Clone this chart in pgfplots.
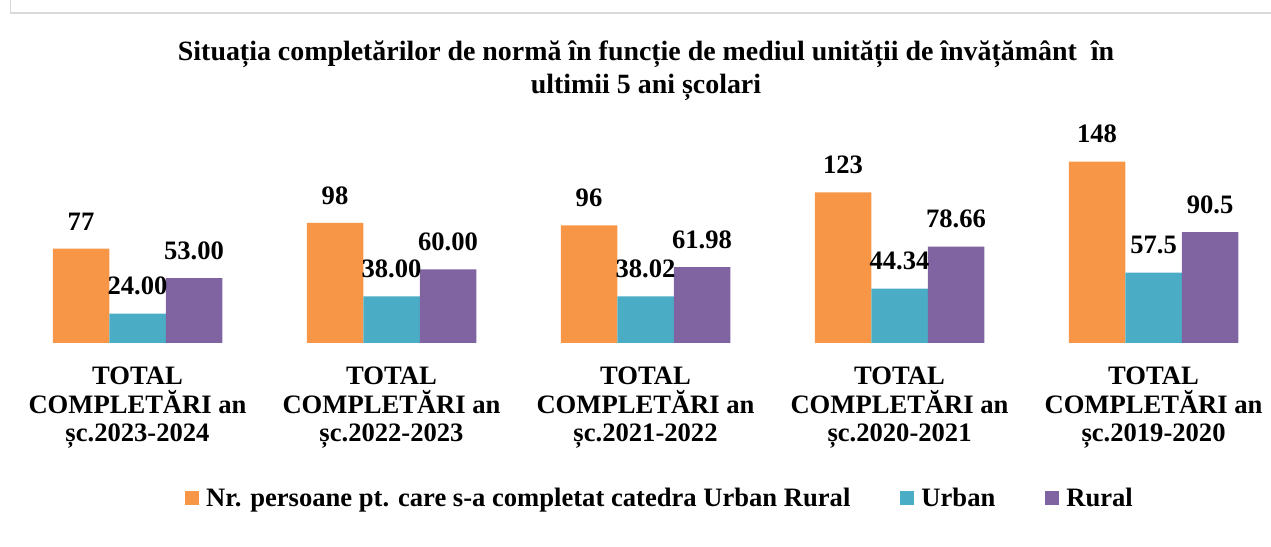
\documentclass[border=0pt]{standalone}
\usepackage{pgfplots}
\pgfplotsset{compat=1.18}
\usepackage{pgfplotstable}
\usepackage{fontspec}
\setmainfont{Liberation Serif}
\definecolor{corange}{HTML}{F79646}
\definecolor{cteal}{HTML}{4BACC6}
\definecolor{cpurple}{HTML}{8064A2}
\definecolor{cborder}{HTML}{D9D9D9}

\pgfplotstableread{
x nr lnr urb lurb rur lrur
0 77 77 24 24.00 53 53.00
1 98 98 38 38.00 60 60.00
2 96 96 38.02 38.02 61.98 61.98
3 123 123 44.34 44.34 78.66 78.66
4 148 148 57.5 57.5 90.5 90.5
}\data

\newcommand{\bigf}{\fontsize{26.7}{29}\selectfont\bfseries}

\begin{document}
\begin{tikzpicture}[x=1bp,y=1bp]
\useasboundingbox (0,0) rectangle (1271,547);
\draw[cborder, line width=1.5bp] (10.5,548) -- (10.5,534) -- (1272,534);
\node[font=\fontsize{28}{33}\selectfont\bfseries, anchor=base] at (646,486) {Situația completărilor de normă în funcție de mediul unității de învățământ \ în};
\node[font=\fontsize{28}{33}\selectfont\bfseries, anchor=base] at (646,453) {ultimii 5 ani școlari};
\begin{axis}[
  at={(137.5bp,204bp)}, anchor=origin,
  scale only axis, width=1260.5bp, height=196bp,
  xmin=-0.5, xmax=4.4626, ymin=0, ymax=160,
  ybar=0pt, bar width=56.5bp,
  axis line style={draw=none}, major tick length=0pt, ytick=\empty,
  xtick={0,1,2,3,4},
  xticklabels={
    {TOTAL\\COMPLETĂRI an\\șc.2023-2024},
    {TOTAL\\COMPLETĂRI an\\șc.2022-2023},
    {TOTAL\\COMPLETĂRI an\\șc.2021-2022},
    {TOTAL\\COMPLETĂRI an\\șc.2020-2021},
    {TOTAL\\COMPLETĂRI an\\șc.2019-2020}},
  xticklabel style={align=center, font=\bigf, yshift=-20bp},
  nodes near coords, point meta=explicit symbolic,
  every node near coord/.append style={font=\bigf, yshift=15bp, text=black},
  clip=false,
  legend image code/.code={\fill[#1] (0bp,-7bp) rectangle (14bp,7bp);},
  legend style={at={(0.5145,-0.791)}, anchor=center, draw=none, fill=none,
    font=\bigf, legend columns=-1,
    nodes={inner sep=0pt},
    /tikz/every odd column/.append style={column sep=7bp},
    /tikz/every even column/.append style={column sep=50bp}},
]
\addplot[fill=corange, draw=none] table[x=x, y=nr, meta=lnr] {\data};
\addplot[fill=cteal, draw=none] table[x=x, y=urb, meta=lurb] {\data};
\addplot[fill=cpurple, draw=none] table[x=x, y=rur, meta=lrur] {\data};
\legend{Nr. persoane pt. care s-a completat catedra Urban Rural, Urban, Rural}
\end{axis}
\end{tikzpicture}
\end{document}
